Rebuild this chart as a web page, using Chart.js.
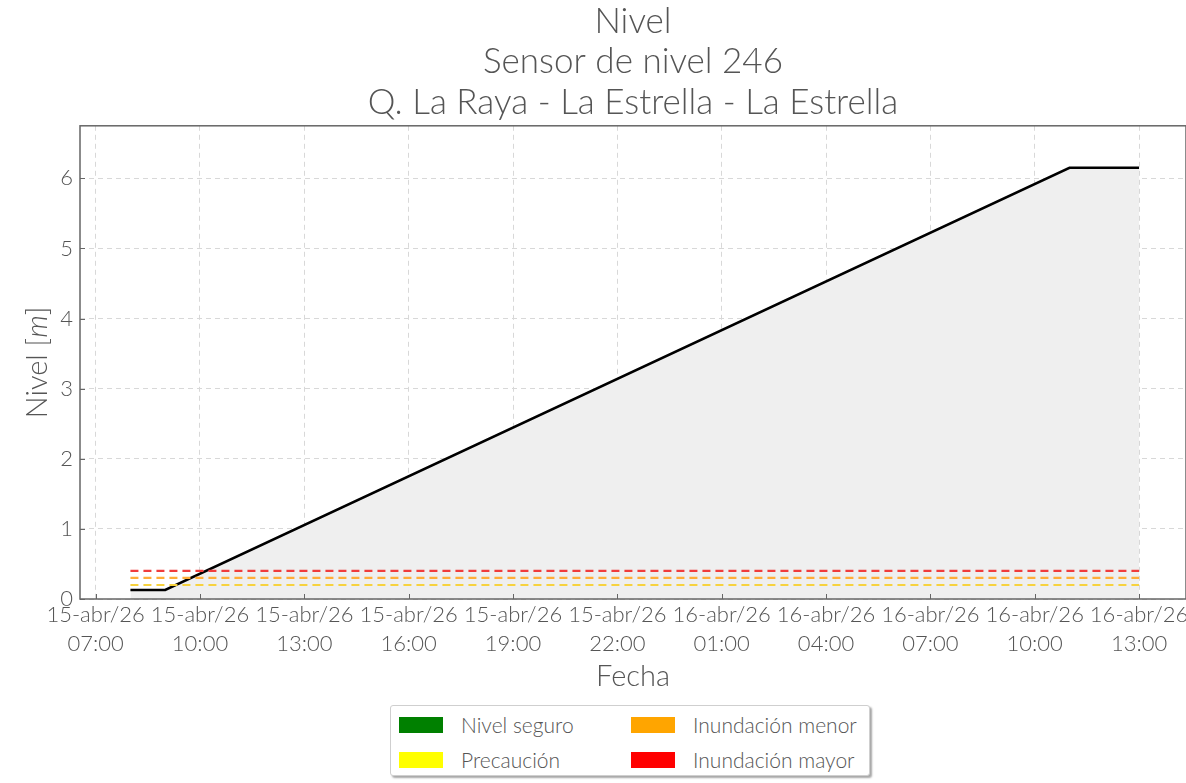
<!DOCTYPE html>
<html>
<head>
<meta charset="utf-8">
<script src="https://cdn.jsdelivr.net/npm/chart.js@4/dist/chart.umd.min.js"></script>
<style>
  html, body { margin: 0; padding: 0; background: #fff; }
  #wrap { position: relative; width: 1186px; height: 783px; overflow: hidden; font-family: Lato, sans-serif; }
  #chart { position: absolute; left: 0; top: 0; }
  #legend {
    position: absolute; left: 390px; top: 705px; width: 480px; height: 71px;
    border: 1px solid #cfcfcf; border-radius: 3px; background: #fff;
    box-shadow: 2px 2px 2px rgba(0,0,0,0.35);
    display: grid; grid-template-columns: 232px 240px; grid-template-rows: 35px 35px;
    padding-top: 1px; box-sizing: border-box;
  }
  .item { display: flex; align-items: center; color: #555; font-size: 21px; font-weight: 300; }
  .sw { width: 44px; height: 16px; margin-left: 8px; margin-right: 18px; }
</style>
</head>
<body>
<div id="wrap">
  <canvas id="chart" width="1240" height="700"></canvas>
  <div id="legend"></div>
</div>
<script>
// hours counted from 15-abr/26 00:00
const levelHours = [8, 9, 35, 37]
const levelValues = [0.13, 0.13, 6.15, 6.15]

const thresholdHours = [8, 37]
const thresholdNames = ['Precaución', 'Inundación menor', 'Inundación mayor']
const thresholdValues = [0.2, 0.3, 0.4]
const thresholdColors = ['#f7d23e', '#ffad38', '#f03c3c']

const tickHours = [7, 10, 13, 16, 19, 22, 25, 28, 31, 34, 37]
const yTicks = [0, 1, 2, 3, 4, 5, 6]

const legendNames = ['Nivel seguro', 'Inundación menor', 'Precaución', 'Inundación mayor']
const legendColors = ['#008000', '#ffa500', '#ffff00', '#ff0000']

const textColor = '#555'
const font = 'Lato, sans-serif'

function tickLabel(h) {
  const day = h < 24 ? '15-abr/26' : '16-abr/26'
  const hh = String(h % 24).padStart(2, '0')
  return [day, hh + ':00']
}

// legend (html, two columns)
const legendEl = document.getElementById('legend')
legendNames.forEach((name, i) => {
  const d = document.createElement('div')
  d.className = 'item'
  d.innerHTML = '<span class="sw" style="background:' + legendColors[i] + '"></span>' + name
  legendEl.appendChild(d)
})

const thresholdSets = thresholdValues.map((v, i) => ({
  label: thresholdNames[i],
  data: thresholdHours.map(h => ({ x: h, y: v })),
  borderColor: thresholdColors[i],
  borderWidth: 2.2,
  borderDash: [8, 5],
  pointRadius: 0,
  fill: false
}))

// frame, inward tick marks and the y title with an italic unit
const framePlugin = {
  id: 'frame',
  afterDraw(chart) {
    const { ctx, chartArea: a, scales } = chart
    ctx.save()
    ctx.strokeStyle = '#666'
    ctx.lineWidth = 1
    scales.x.ticks.forEach(t => {
      const px = Math.round(scales.x.getPixelForValue(t.value)) + 0.5
      ctx.beginPath()
      ctx.moveTo(px, a.bottom)
      ctx.lineTo(px, a.bottom - 5)
      ctx.stroke()
    })
    scales.y.ticks.forEach(t => {
      const py = Math.round(scales.y.getPixelForValue(t.value)) + 0.5
      ctx.beginPath()
      ctx.moveTo(a.left, py)
      ctx.lineTo(a.left + 5, py)
      ctx.stroke()
    })
    ctx.lineWidth = 1.5
    ctx.strokeRect(a.left, a.top, a.right - a.left, a.bottom - a.top)

    // "Nivel [m]" rotated
    const parts = [['Nivel [', 'normal'], ['m', 'italic'], [']', 'normal']]
    ctx.fillStyle = textColor
    ctx.textBaseline = 'middle'
    ctx.textAlign = 'left'
    let total = 0
    parts.forEach(p => { ctx.font = p[1] + ' 300 29px ' + font; total += ctx.measureText(p[0]).width })
    ctx.translate(38, (a.top + a.bottom) / 2)
    ctx.rotate(-Math.PI / 2)
    let x = -total / 2
    parts.forEach(p => {
      ctx.font = p[1] + ' 300 29px ' + font
      ctx.fillText(p[0], x, 0)
      x += ctx.measureText(p[0]).width
    })
    ctx.restore()
  }
}

new Chart(document.getElementById('chart'), {
  type: 'line',
  data: {
    datasets: [
      ...thresholdSets,
      {
        label: 'Nivel',
        data: levelHours.map((h, i) => ({ x: h, y: levelValues[i] })),
        borderColor: '#000',
        borderWidth: 2.5,
        pointRadius: 0,
        tension: 0,
        fill: 'origin',
        backgroundColor: '#efefef'
      }
    ]
  },
  options: {
    responsive: false,
    animation: false,
    layout: { padding: { left: 0, right: 54, top: 0, bottom: 0 } },
    plugins: {
      legend: { display: false },
      tooltip: { enabled: false },
      title: {
        display: true,
        fullSize: false,
        text: ['Nivel', 'Sensor de nivel 246', 'Q. La Raya - La Estrella - La Estrella'],
        color: textColor,
        font: { family: font, size: 35, weight: 300, lineHeight: 1.16 },
        padding: { top: 1, bottom: 3 }
      }
    },
    scales: {
      x: {
        type: 'linear',
        min: 6.55,
        max: 38.35,
        afterBuildTicks: s => { s.ticks = tickHours.map(v => ({ value: v })) },
        afterFit: s => { s.height = 101; s.paddingLeft = 0; s.paddingRight = 0 },
        ticks: {
          autoSkip: false,
          maxRotation: 0,
          padding: 2,
          color: textColor,
          font: { family: font, size: 22, weight: 300, lineHeight: 1.3 },
          callback: v => tickLabel(v)
        },
        grid: { color: '#d8d8d8', drawTicks: false },
        border: { display: false, dash: [5, 4] },
        title: {
          display: true,
          text: 'Fecha',
          color: textColor,
          font: { family: font, size: 29, weight: 300, lineHeight: 1.2 },
          padding: { top: 0, bottom: 6 }
        }
      },
      y: {
        min: 0,
        max: 6.75,
        afterBuildTicks: s => { s.ticks = yTicks.map(v => ({ value: v })) },
        afterFit: s => { s.width = 80 },
        ticks: {
          padding: 7,
          color: textColor,
          font: { family: font, size: 22, weight: 300 }
        },
        grid: { color: '#d8d8d8', drawTicks: false },
        border: { display: false, dash: [5, 4] },
        title: { display: false }
      }
    }
  },
  plugins: [framePlugin]
})
</script>
</body>
</html>
